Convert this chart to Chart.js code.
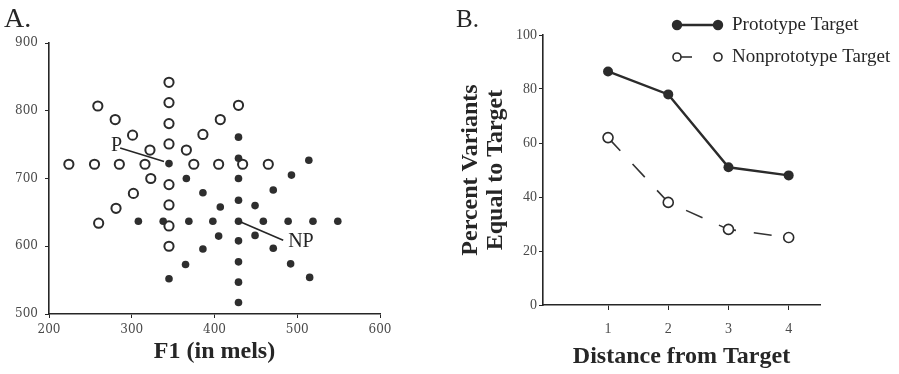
<!DOCTYPE html>
<html>
<head>
<meta charset="utf-8">
<script src="https://cdn.jsdelivr.net/npm/chart.js@4.4.1/dist/chart.umd.min.js"></script>
<style>
  html, body { margin: 0; padding: 0; background: #fff; }
  #wrap { position: relative; width: 899px; height: 374px; overflow: hidden; background: #fff; }
  .panel { position: absolute; top: 0; }
  #pa { left: 0; }
  #pb { left: 440px; }
</style>
</head>
<body>
<div id="wrap">
  <div class="panel" id="pa"><canvas id="chart-a" width="430" height="374"></canvas></div>
  <div class="panel" id="pb"><canvas id="chart-b" width="459" height="374"></canvas></div>
</div>
<script>
// ---- panel A: variants around P (open) and around NP (filled), in mels
const openF1 = [345, 345, 345, 345, 345, 345, 345, 345,
                224, 255, 285, 316, 375, 405, 434, 465,
                322, 301, 280, 259,
                366, 386, 407, 429,
                323, 302, 281, 260];
const openF2 = [842, 812, 781, 751, 691, 661, 630, 600,
                721, 721, 721, 721, 721, 721, 721, 721,
                742, 764, 787, 807,
                742, 765, 787, 808,
                700, 678, 656, 634];
const filledF1 = [429, 429, 429, 429, 429, 429, 429, 429, 429,
                  308, 338, 369, 398, 459, 489, 519, 549,
                  407, 386, 366, 345,
                  449, 471, 493, 514,
                  405, 386, 365, 345,
                  449, 471, 492, 515];
const filledF2 = [761, 730, 700, 668, 637, 608, 577, 547, 517,
                  637, 637, 637, 637, 637, 637, 637, 637,
                  658, 679, 700, 722,
                  660, 683, 705, 727,
                  615, 596, 573, 552,
                  616, 597, 574, 554];
const f1Ticks = [200, 300, 400, 500, 600];
const f2Ticks = [500, 600, 700, 800, 900];
// labelled points: text anchor and leader line, in mels
const notes = [
  { text: 'P',  at: [275, 749], from: [286, 745], to: [339, 725] },
  { text: 'NP', at: [489, 607], from: [431, 636], to: [483, 609] }
];

// ---- panel B
const distances   = [1, 2, 3, 4];
const protoPct    = [86.5, 78, 51, 48];
const nonprotoPct = [62, 38, 28, 25];
const pctTicks    = [0, 20, 40, 60, 80, 100];
const seriesNames = ['Prototype Target', 'Nonprototype Target'];

const ink = '#262626', tickC = '#4a4a4a';
const serif = "'Liberation Serif', 'Times New Roman', serif";

const extras = {
  id: 'extras',
  afterDraw(chart, args, o) {
    const ctx = chart.ctx;
    ctx.save();
    ctx.fillStyle = ink;
    ctx.strokeStyle = ink;
    if (o.panel) {
      ctx.font = o.panel.font;
      ctx.textBaseline = 'alphabetic';
      ctx.fillText(o.panel.text, o.panel.x, o.panel.y);
    }
    if (o.notes) {
      const sx = chart.scales.x, sy = chart.scales.y;
      o.notes.forEach(n => {
        ctx.lineWidth = 1.6;
        ctx.beginPath();
        ctx.moveTo(sx.getPixelForValue(n.from[0]), sy.getPixelForValue(n.from[1]));
        ctx.lineTo(sx.getPixelForValue(n.to[0]), sy.getPixelForValue(n.to[1]));
        ctx.stroke();
        ctx.font = '20px ' + serif;
        ctx.textAlign = 'left';
        ctx.textBaseline = 'middle';
        ctx.fillText(n.text, sx.getPixelForValue(n.at[0]), sy.getPixelForValue(n.at[1]));
      });
    }
    if (o.legend) {
      const L = o.legend;
      chart.data.datasets.forEach((ds, i) => {
        const y = L.y + i * L.gap;
        ctx.strokeStyle = ds.borderColor;
        ctx.lineWidth = ds.borderWidth;
        ctx.setLineDash([]);
        ctx.beginPath();
        if (ds.borderDash && ds.borderDash.length) {
          ctx.moveTo(L.x1, y); ctx.lineTo(L.x1 + 15, y);
        } else {
          ctx.moveTo(L.x1, y); ctx.lineTo(L.x2, y);
        }
        ctx.stroke();
        [L.x1, L.x2].forEach(x => {
          ctx.beginPath();
          ctx.arc(x, y, L.r, 0, Math.PI * 2);
          ctx.fillStyle = ds.pointBackgroundColor;
          ctx.fill();
          ctx.lineWidth = ds.pointBorderWidth;
          ctx.strokeStyle = ds.pointBorderColor;
          ctx.stroke();
        });
        ctx.fillStyle = ink;
        ctx.font = L.font;
        ctx.textAlign = 'left';
        ctx.textBaseline = 'middle';
        ctx.fillText(ds.label, L.tx, y);
      });
    }
    ctx.restore();
  }
};

function tickList(list) {
  return scale => { scale.ticks = list.map(v => ({ value: v })); };
}

new Chart(document.getElementById('chart-a'), {
  type: 'scatter',
  data: {
    datasets: [
      {
        label: 'P variants',
        data: openF1.map((x, i) => ({ x, y: openF2[i] })),
        pointRadius: 4.6,
        pointBorderWidth: 2,
        pointBorderColor: '#2b2b2b',
        pointBackgroundColor: 'rgba(255,255,255,0)'
      },
      {
        label: 'NP variants',
        data: filledF1.map((x, i) => ({ x, y: filledF2[i] })),
        pointRadius: 3.8,
        pointBorderWidth: 0,
        pointBackgroundColor: '#2e2e2e'
      }
    ]
  },
  options: {
    responsive: false,
    animation: false,
    events: [],
    layout: { padding: { top: 43, right: 50, left: 0, bottom: 0 } },
    plugins: {
      legend: { display: false },
      tooltip: { enabled: false },
      extras: {
        panel: { text: 'A.', x: 4, y: 27, font: '28px ' + serif },
        notes: notes
      }
    },
    scales: {
      x: {
        type: 'linear', min: 200, max: 600,
        afterBuildTicks: tickList(f1Ticks),
        ticks: { color: tickC, font: { family: "'DejaVu Serif', serif", size: 12 }, padding: 5, maxRotation: 0 },
        grid: { drawOnChartArea: false, drawTicks: true, tickLength: 4, color: ink },
        border: { color: ink, width: 1.6 },
        title: { display: true, text: 'F1 (in mels)', color: ink,
                 font: { family: serif, size: 24, weight: 'bold' }, padding: { top: 0, bottom: 8 } },
        afterFit: s => { s.height = 60; }
      },
      y: {
        type: 'linear', min: 500, max: 900,
        afterBuildTicks: tickList(f2Ticks),
        ticks: { color: tickC, font: { family: "'DejaVu Serif', serif", size: 12 }, padding: 7 },
        grid: { drawOnChartArea: false, drawTicks: true, tickLength: 4, color: ink },
        border: { color: ink, width: 1.6 },
        afterFit: s => { s.width = 49; }
      }
    }
  },
  plugins: [extras]
});

new Chart(document.getElementById('chart-b'), {
  type: 'line',
  data: {
    datasets: [
      {
        label: seriesNames[0],
        data: distances.map((x, i) => ({ x, y: protoPct[i] })),
        borderColor: '#2b2b2b',
        borderWidth: 2.4,
        pointRadius: 5,
        pointBorderWidth: 0,
        pointBorderColor: '#2b2b2b',
        pointBackgroundColor: '#2b2b2b',
        tension: 0
      },
      {
        label: seriesNames[1],
        data: distances.map((x, i) => ({ x, y: nonprotoPct[i] })),
        borderColor: '#333',
        borderWidth: 1.6,
        borderDash: [18, 18],
        pointRadius: 5,
        pointBorderWidth: 1.6,
        pointBorderColor: '#2b2b2b',
        pointBackgroundColor: '#fff',
        tension: 0
      }
    ]
  },
  options: {
    responsive: false,
    animation: false,
    events: [],
    layout: { padding: { top: 35, right: 79, left: 0, bottom: 0 } },
    plugins: {
      legend: { display: false },
      tooltip: { enabled: false },
      extras: {
        panel: { text: 'B.', x: 16, y: 27, font: '25px ' + serif },
        legend: { x1: 237, x2: 278, tx: 292, y: 25, gap: 32, r: 4, font: '19px ' + serif }
      }
    },
    scales: {
      x: {
        type: 'linear', min: -0.08, max: 4.52,
        afterBuildTicks: tickList(distances),
        ticks: { color: tickC, font: { family: serif, size: 14 }, padding: 11, maxRotation: 0 },
        grid: { drawOnChartArea: false, drawTicks: true, tickLength: 5, color: ink },
        border: { color: ink, width: 1.6 },
        title: { display: true, text: 'Distance from Target', color: ink,
                 font: { family: serif, size: 24, weight: 'bold' }, padding: { top: 0, bottom: 3 } },
        afterFit: s => { s.height = 69; }
      },
      y: {
        type: 'linear', min: 0, max: 100,
        afterBuildTicks: tickList(pctTicks),
        ticks: { color: tickC, font: { family: serif, size: 14 }, padding: 2 },
        grid: { drawOnChartArea: false, drawTicks: true, tickLength: 4, color: ink },
        border: { color: ink, width: 1.6 },
        title: { display: true, text: ['Percent Variants', 'Equal to Target'], color: ink,
                 font: { family: serif, size: 24, weight: 'bold', lineHeight: 1.05 }, padding: { top: 18, bottom: 0 } },
        afterFit: s => { s.width = 103; }
      }
    }
  },
  plugins: [extras]
});
</script>
</body>
</html>
